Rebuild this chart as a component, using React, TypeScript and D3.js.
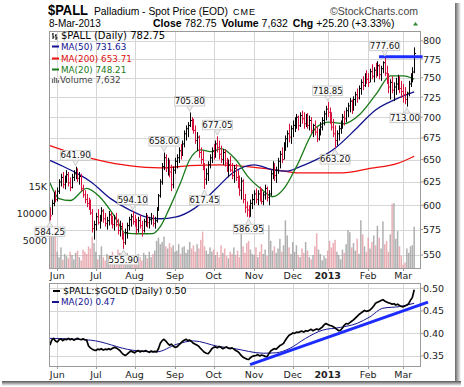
import React from "react";
import * as d3 from "d3";

// chart size / panel edges
const W = 464;
const H = 387;
const main = { left: 49, right: 420, top: 31, bottom: 268 };
const low = { top: 283, bottom: 366 };

const monthLabels = ["Jun", "Jul", "Aug", "Sep", "Oct", "Nov", "Dec", "2013", "Feb", "Mar"];
const monthIdx = [4, 25, 46, 68, 89, 111, 132, 151, 173, 192];

const priceTicks = [550, 575, 600, 625, 650, 675, 700, 725, 750, 775, 800];
const volTicks = [5000, 10000, 15000];
const volTickLabels = ["5000", "10000", "15K"];
const ratioTicks = [0.35, 0.4, 0.45, 0.5];

// daily bars, 24-May-2012 .. 8-Mar-2013
const highs = [
  598, 606, 614, 616, 619, 628, 634, 636, 632, 638,
  636, 630, 634, 638, 641.9, 640, 636, 634, 622, 616,
  612, 608, 606, 596, 584, 592, 596, 590, 598, 596,
  592, 588, 594, 593, 589, 590, 592, 586, 584, 582,
  572, 576, 582, 588, 591, 594.1, 590, 586, 588, 590,
  584, 586, 592, 590, 588, 592, 590, 588, 598, 612,
  628, 646, 658, 656, 652, 650, 644, 642, 652, 656,
  664, 668, 672, 684, 690, 694, 705.8, 700, 698, 690,
  682, 678, 664, 660, 646, 640, 648, 656, 664, 668,
  672, 677.05, 672, 666, 662, 662, 652, 650, 654, 646,
  644, 645, 638, 632, 630, 628, 612, 604, 600, 606,
  612, 616, 618, 616, 620, 618, 614, 622, 620, 616,
  638, 648, 646, 642, 652, 660, 664, 670, 678, 684,
  692, 690, 696, 700, 704, 702, 706, 708, 706, 704,
  705, 702, 700, 692, 696, 688, 686, 694, 700, 708,
  714, 718.85, 712, 706, 698, 690, 684, 690, 696, 704,
  708, 712, 718, 724, 722, 726, 732, 736, 740, 748,
  752, 756, 760, 756, 762, 768, 764, 770, 772, 768,
  766, 772, 777.6, 766, 756, 748, 752, 744, 750, 754,
  752, 746, 742, 738, 732, 746, 756, 764, 791,
];
const lows = [
  584.25, 590, 599, 603, 604, 612, 620, 618, 617, 624,
  620, 615, 618, 626, 628, 625, 622, 615, 608, 602,
  598, 595, 590, 572, 565, 574, 580, 576, 583, 582,
  578, 575, 579, 580, 576, 574, 578, 570, 568, 565,
  555.9, 560, 566, 574, 578, 580, 578, 570, 572, 576,
  568, 572, 578, 577, 576, 580, 578, 576, 582, 594,
  608, 622, 638, 636, 632, 630, 615, 618, 634, 640,
  646, 650, 654, 664, 672, 676, 688, 684, 680, 668,
  660, 652, 645, 638, 617.45, 622, 626, 640, 646, 650,
  652, 658, 650, 646, 644, 642, 636, 630, 636, 628,
  624, 626, 618, 610, 606, 602, 592, 588, 586.95, 588,
  596, 600, 602, 600, 604, 601, 600, 606, 604, 600,
  610, 628, 626, 624, 634, 640, 646, 650, 660, 664,
  670, 668, 676, 682, 686, 684, 688, 692, 686, 688,
  686, 684, 680, 676, 678, 670, 672, 678, 684, 690,
  696, 700, 692, 684, 676, 663.2, 666, 672, 680, 686,
  690, 694, 700, 706, 704, 708, 714, 718, 722, 728,
  734, 738, 742, 738, 744, 748, 744, 750, 752, 748,
  746, 756, 752, 742, 730, 722, 730, 720, 728, 734,
  730, 724, 718, 716, 713, 726, 738, 744, 756,
];
const closes = [
  589, 602, 610, 606, 615, 625, 630, 622, 628, 633,
  624, 619, 630, 634, 637, 629, 631, 618, 611, 606,
  602, 598, 592, 576, 580, 588, 582, 585, 594, 586,
  581, 584, 590, 583, 580, 586, 580, 574, 578, 568,
  562, 572, 579, 585, 588, 583, 581, 575, 584, 579,
  574, 583, 588, 582, 585, 586, 581, 584, 596, 610,
  625, 642, 652, 641, 648, 636, 622, 638, 648, 652,
  660, 656, 668, 680, 686, 690, 696, 688, 684, 672,
  676, 658, 650, 642, 628, 634, 644, 652, 660, 655,
  668, 664, 656, 650, 658, 646, 640, 644, 638, 632,
  640, 630, 622, 616, 626, 606, 598, 595, 590, 602,
  606, 612, 606, 612, 610, 604, 611, 618, 608, 612,
  634, 642, 632, 638, 648, 656, 650, 666, 674, 680,
  676, 686, 690, 694, 700, 690, 702, 698, 692, 700,
  690, 696, 684, 690, 682, 674, 684, 688, 696, 704,
  710, 706, 696, 688, 680, 672, 680, 686, 692, 700,
  698, 708, 714, 720, 712, 722, 728, 724, 736, 744,
  740, 752, 748, 744, 758, 752, 760, 756, 766, 754,
  762, 770, 756, 748, 738, 744, 734, 738, 742, 748,
  736, 732, 728, 722, 730, 742, 750, 757.55, 782.75,
];
// volume, thousands
const volumes = [
  6.0, 7.2, 5.8, 6.8, 3.0,
  2.0, 3.8, 1.5, 2.6, 2.2, 1.8, 3.0, 2.4, 1.6, 2.8, 3.2, 2.0, 1.4, 3.4, 3.0, 2.6, 4.0, 3.6, 5.8, 4.6,
  3.0, 1.6, 2.4, 4.0, 2.0, 1.4, 2.6, 1.8, 2.2, 3.0, 1.6, 2.0, 3.4, 2.8, 1.8, 3.2, 2.2, 2.8, 1.6, 2.0, 2.4,
  2.2, 1.8, 2.6, 2.0, 1.4, 2.8, 2.4, 1.8, 3.0, 2.0, 2.6, 3.2,
  5.0, 5.6, 4.4, 4.8, 5.8, 4.0, 3.6, 4.6, 3.8, 4.2, 3.0,
  3.2, 4.4, 2.6, 3.8, 4.0, 2.8, 3.4, 4.8, 3.6, 4.2, 3.0, 4.4, 3.6, 5.2, 6.7, 4.0, 3.2, 2.6, 3.8, 3.0,
  3.4, 2.4, 3.0, 2.0, 4.2, 2.8, 3.6, 2.2, 1.8, 3.0, 2.6, 3.8, 2.4, 3.2, 2.0, 7.0, 4.0, 2.8, 4.6, 5.0, 3.4, 2.6,
  2.4, 3.8, 2.0, 3.0, 4.4, 2.6, 3.4, 2.2, 7.9, 5.0, 3.2, 4.0, 2.8, 3.6, 5.4, 3.0, 4.2, 8.8, 6.0, 3.8, 2.6, 4.8,
  3.0, 4.2, 2.4, 2.0, 3.6, 2.8, 4.8, 3.2, 2.0, 1.6, 2.4, 4.0, 6.4, 3.4, 2.6, 1.4, 2.2, 1.8,
  3.2, 5.0, 3.8, 4.6, 5.2, 3.0, 2.4, 1.6, 3.4, 2.8, 4.4, 7.0, 6.6, 3.8, 4.6, 3.2, 5.4, 2.6, 8.8, 6.2, 4.0, 3.0, 5.6, 3.6, 4.8, 6.0,
  4.2, 7.8, 5.6, 3.6, 8.6, 4.4, 5.0, 3.0, 6.2, 11.8, 12.0, 5.4, 6.8, 4.0,
  2.2, 0.6, 1.0, 3.6, 2.8, 4.0, 4.2, 7.632,
];
// $PALL:$GOLD daily
const ratio = [
  0.374, 0.385, 0.389, 0.383, 0.381, 0.386, 0.388, 0.384, 0.387, 0.386,
  0.389, 0.386, 0.388, 0.385, 0.387, 0.389, 0.387, 0.386, 0.388, 0.386,
  0.385, 0.372, 0.368, 0.365, 0.363, 0.362, 0.365, 0.364, 0.366, 0.363,
  0.365, 0.364, 0.366, 0.364, 0.367, 0.369, 0.368, 0.365, 0.362, 0.357,
  0.353, 0.351, 0.354, 0.358, 0.361, 0.359, 0.357, 0.36, 0.362, 0.359,
  0.361, 0.36, 0.362, 0.36, 0.358, 0.361, 0.359, 0.36, 0.359, 0.366,
  0.378, 0.384, 0.387, 0.383, 0.378, 0.374, 0.376, 0.372, 0.369, 0.37,
  0.374, 0.378, 0.382, 0.385, 0.387, 0.384, 0.385, 0.382, 0.378, 0.376,
  0.374, 0.371, 0.366, 0.362, 0.358, 0.356, 0.355, 0.36, 0.366, 0.369,
  0.37, 0.368, 0.371, 0.369, 0.366, 0.368, 0.37, 0.367, 0.366, 0.368,
  0.365, 0.362, 0.36, 0.356, 0.351, 0.347, 0.345, 0.343, 0.342, 0.346,
  0.349, 0.35, 0.351, 0.353, 0.35, 0.352, 0.351, 0.349, 0.348, 0.355,
  0.361, 0.364, 0.366, 0.365, 0.369, 0.373, 0.375, 0.378, 0.385, 0.391,
  0.396, 0.398, 0.401, 0.4, 0.403, 0.402, 0.404, 0.405, 0.403, 0.406,
  0.405, 0.407, 0.409, 0.406, 0.408, 0.41, 0.408, 0.411, 0.414, 0.419,
  0.422, 0.42, 0.418, 0.417, 0.415, 0.412, 0.409, 0.406, 0.407, 0.412,
  0.418, 0.422, 0.421, 0.424, 0.427, 0.43, 0.434, 0.438, 0.442, 0.445,
  0.448, 0.451, 0.449, 0.45, 0.452, 0.456, 0.461, 0.467, 0.469, 0.471,
  0.473, 0.475, 0.472, 0.47, 0.468, 0.467, 0.465, 0.466, 0.463, 0.465,
  0.462, 0.46, 0.459, 0.461, 0.463, 0.466, 0.474, 0.48, 0.497,
];

// moving averages as [day index, value]
const ma200 = [[0, 666], [11, 658], [27, 649], [43, 643], [60, 640.5], [76, 643], [92, 644], [110, 641.5], [129, 636.5], [134, 635], [159, 635], [174, 640], [189, 645.6], [198, 653.71]];
const ma50 = [[0, 649], [9, 640.4], [16, 633], [22, 625.5], [33, 607], [43, 595.4], [52, 588], [60, 586], [68, 587.6], [79, 597.3], [90, 617], [100, 636], [111, 644], [122, 638], [129, 637], [136, 642], [144, 649], [155, 663], [166, 685], [177, 709], [188, 722.4], [198, 731.63]];
const ma20 = [[0, 624], [5, 607], [11, 605], [20, 618], [27, 609], [36, 586], [41, 571.5], [49, 570.8], [56, 571], [60, 578], [65, 597], [71, 624], [76, 650], [82, 661], [88, 659], [93, 662.6], [101, 650], [108, 630], [115, 617], [121, 609], [128, 620], [134, 642], [145, 688], [152, 694], [159.5, 692], [168.5, 703.7], [177.6, 729.8], [185, 752.6], [192, 752.6], [198, 748.21]];
const ratioMa20 = [[0, 0.389], [22, 0.385], [45, 0.3626], [58, 0.359], [69, 0.376], [78, 0.3834], [91, 0.3716], [100, 0.3664], [116, 0.356], [123, 0.357], [130, 0.366], [139, 0.389], [148, 0.407], [158, 0.4134], [167, 0.4224], [174, 0.437], [181, 0.456], [190, 0.4596], [198, 0.467]];

// drawn annotations
const highMarks = [14, 45, 62, 76, 91, 151, 182];
const lowMarks = [0, 40, 84, 108, 155, 194];
const resistance = [[178.9, 778], [202.6, 778]];
const ratioTrend = [[108.8, 0.3305], [205.5, 0.4695]];

const RED = "#d8103c";
const BLUE = "#1c2cff";
const GRID = "#d6d6d6";
const BORDER = "#9a9a9a";
const axisFont = "DejaVu Sans, Verdana, sans-serif";
const headFont = "Liberation Sans, Arial, sans-serif";

export default function App() {
  const x = d3.scaleLinear().domain([0, 198]).range([49.9, 414.2]);
  const y = d3.scaleLog().domain([537.6, 814]).range([main.bottom, main.top]);
  const yv = d3.scaleLinear().domain([0, 15000]).range([main.bottom, 186.7]);
  const yr = d3.scaleLinear().domain([0.3276, 0.512]).range([low.bottom, low.top]);

  const down = (i: number) => (i === 0 ? true : closes[i] < closes[i - 1]);

  const maLine = d3.line<number[]>().x((d) => x(d[0])).y((d) => y(d[1])).curve(d3.curveMonotoneX);
  const rMaLine = d3.line<number[]>().x((d) => x(d[0])).y((d) => yr(d[1])).curve(d3.curveMonotoneX);
  const rLine = d3.line<number>().x((_, i) => x(i)).y((d) => yr(d));

  const label = (i: number, isHigh: boolean) => {
    const v = isHigh ? highs[i] : lows[i];
    const px = x(i);
    const py = y(v);
    const bh = 9.5;
    const bw = 30;
    const cx = Math.min(px, main.right - bw / 2);
    const by = isHigh ? py - 6.5 - bh : py + 6.5;
    const tip = isHigh
      ? `M${px - 3},${by + bh} L${px},${py - 1} L${px + 3},${by + bh}`
      : `M${px - 3},${by} L${px},${py + 1} L${px + 3},${by}`;
    return (
      <g key={`${isHigh ? "h" : "l"}${i}`}>
        <path d={tip} fill="#eeeeee" stroke="#c4c4c4" strokeWidth={0.8} />
        <rect x={cx - bw / 2} y={by} width={bw} height={bh} fill="#fbfbfb" stroke="#c4c4c4" strokeWidth={0.8} />
        <text x={cx} y={by + bh - 1.7} textAnchor="middle" fontSize={8.6} fontFamily={axisFont} fill="#111">
          {v.toFixed(2)}
        </text>
      </g>
    );
  };

  return (
    <div>
      <style>{`body{margin:0}`}</style>
      <svg width={W} height={H} viewBox={`0 0 ${W} ${H}`} style={{ display: "block", background: "#fff" }}>
        <defs>
          <clipPath id="mainClip">
            <rect x={main.left} y={main.top} width={main.right - main.left} height={main.bottom - main.top} />
          </clipPath>
          <clipPath id="lowClip">
            <rect x={main.left} y={low.top} width={main.right - main.left} height={low.bottom - low.top} />
          </clipPath>
          <linearGradient id="shR" x1="0" x2="1" y1="0" y2="0">
            <stop offset="0" stopColor="#666" />
            <stop offset="1" stopColor="#fff" />
          </linearGradient>
          <linearGradient id="shB" x1="0" x2="0" y1="0" y2="1">
            <stop offset="0" stopColor="#555" />
            <stop offset="1" stopColor="#fff" />
          </linearGradient>
        </defs>

        {/* frame shadow */}
        <rect x={455} y={3} width={6} height={380} fill="url(#shR)" />
        <rect x={2} y={381} width={459} height={5} fill="url(#shB)" />

        {/* header */}
        <text x={48} y={14.5} fontFamily={headFont} fontWeight="bold" fontSize={14} textLength={40} lengthAdjust="spacingAndGlyphs">$PALL</text>
        <text x={94} y={14.5} fontFamily={headFont} fontSize={10.5} textLength={134} lengthAdjust="spacingAndGlyphs">Palladium - Spot Price (EOD)</text>
        <text x={233} y={14.5} fontFamily={headFont} fontSize={9} textLength={22}>CME</text>
        <text x={330} y={14.5} fontFamily={headFont} fontSize={10.5} fill="#444" textLength={88}>©StockCharts.com</text>
        <text x={49} y={26.5} fontFamily={headFont} fontSize={10}>8-Mar-2013</text>
        <text x={153} y={26.5} fontFamily={headFont} fontSize={10.5}>
          <tspan fontWeight="bold">Close</tspan> 782.75 <tspan fontWeight="bold" dx={2}>Volume</tspan> 7,632 <tspan fontWeight="bold" dx={2}>Chg</tspan> +25.20 (+3.33%)
        </text>
        <path d="M413,25.5 L415.5,22 L418,25.5 Z" fill="#2a8a2a" />

        {/* main panel grid */}
        <g clipPath="url(#mainClip)">
          {priceTicks.map((t) => (
            <line key={t} x1={main.left} x2={main.right} y1={Math.round(y(t)) + 0.5} y2={Math.round(y(t)) + 0.5} stroke={GRID} />
          ))}
          {monthIdx.map((m) => (
            <line key={m} x1={Math.round(x(m)) + 0.5} x2={Math.round(x(m)) + 0.5} y1={main.top} y2={main.bottom} stroke={GRID} />
          ))}
          {volumes.map((v, i) => (
            <rect key={i} x={x(i) - 0.75} y={yv(v * 1000)} width={1.5} height={main.bottom - yv(v * 1000)}
              fill={down(i) ? "#e59aa3" : "#9c9c9c"} fillOpacity={0.8} />
          ))}
          <path d={maLine(ma200) || ""} fill="none" stroke="#f01010" strokeWidth={1.3} />
          <path d={maLine(ma50) || ""} fill="none" stroke="#141490" strokeWidth={1.3} />
          <path d={maLine(ma20) || ""} fill="none" stroke="#1a7a1a" strokeWidth={1.3} />
          {closes.map((c, i) => {
            const xi = Math.round(x(i)) + 0.5;
            const col = down(i) ? RED : "#000";
            return (
              <g key={i} stroke={col} strokeWidth={1}>
                <line x1={xi} x2={xi} y1={y(highs[i])} y2={y(lows[i])} />
                <line x1={xi} x2={xi + 1.5} y1={y(c)} y2={y(c)} />
              </g>
            );
          })}
        </g>
        <rect x={main.left + 0.5} y={main.top + 0.5} width={main.right - main.left} height={main.bottom - main.top} fill="none" stroke={BORDER} />
        <path d={d3.line<number[]>().x((d) => x(d[0])).y((d) => y(d[1]))(resistance) || ""} stroke={BLUE} strokeWidth={3} />

        {highMarks.map((i) => label(i, true))}
        {lowMarks.map((i) => label(i, false))}

        {/* main axes */}
        {priceTicks.map((t) => (
          <g key={t}>
            <line x1={main.right} x2={main.right + 3} y1={y(t)} y2={y(t)} stroke={BORDER} />
            <text x={423} y={y(t) + 3.5} fontSize={9.5} fontFamily={axisFont} fill="#222">{t}</text>
          </g>
        ))}
        {volTicks.map((t, k) => (
          <text key={t} x={47} y={yv(t) + 3.5} textAnchor="end" fontSize={9.5} fontFamily={axisFont} fill="#222">{volTickLabels[k]}</text>
        ))}
        {monthIdx.map((m, k) => (
          <g key={m}>
            <line x1={Math.round(x(m)) + 0.5} x2={Math.round(x(m)) + 0.5} y1={main.bottom} y2={main.bottom + 3} stroke={BORDER} />
            <text x={x(m)} y={279} textAnchor="middle" fontSize={9.5} fontFamily={axisFont}
              fontWeight={monthLabels[k] === "2013" ? "bold" : "normal"} fill="#222">{monthLabels[k]}</text>
          </g>
        ))}

        {/* main legend */}
        <g fontFamily={axisFont}>
          <path d="M53,33 v6 M52,34 h1 M53,37 h1.5 M56,34 v6 M55,35.5 h1 M56,38 h1.5" stroke="#000" strokeWidth={1} />
          <text x={61} y={38.5} fontSize={10}>$PALL (Daily) 782.75</text>
          <line x1={52} x2={59} y1={46.5} y2={46.5} stroke="#141490" strokeWidth={2} />
          <text x={61} y={49.5} fontSize={8.8} fill="#141490">MA(50) 731.63</text>
          <line x1={52} x2={59} y1={58.5} y2={58.5} stroke="#f01010" strokeWidth={2} />
          <text x={61} y={61.5} fontSize={8.8} fill="#e01010">MA(200) 653.71</text>
          <line x1={52} x2={59} y1={69.5} y2={69.5} stroke="#1a7a1a" strokeWidth={2} />
          <text x={61} y={72.5} fontSize={8.8} fill="#1a7a1a">MA(20) 748.21</text>
          <path d="M52.5,83 v-4 M54.5,83 v-6 M56.5,83 v-5 M58.5,83 v-3" stroke="#777" strokeWidth={1.3} />
          <text x={60} y={83} fontSize={8.8} fill="#444">Volume 7,632</text>
        </g>

        {/* lower panel */}
        <g clipPath="url(#lowClip)">
          {ratioTicks.map((t) => (
            <line key={t} x1={main.left} x2={main.right} y1={Math.round(yr(t)) + 0.5} y2={Math.round(yr(t)) + 0.5} stroke={GRID} />
          ))}
          {monthIdx.map((m) => (
            <line key={m} x1={Math.round(x(m)) + 0.5} x2={Math.round(x(m)) + 0.5} y1={low.top} y2={low.bottom} stroke={GRID} />
          ))}
          <path d={rMaLine(ratioMa20) || ""} fill="none" stroke="#141490" strokeWidth={1} />
          <path d={rLine(ratio) || ""} fill="none" stroke="#000" strokeWidth={1.7} strokeLinejoin="round" />
        </g>
        <rect x={main.left + 0.5} y={low.top + 0.5} width={main.right - main.left} height={low.bottom - low.top} fill="none" stroke={BORDER} />
        <path d={d3.line<number[]>().x((d) => x(d[0])).y((d) => yr(d[1]))(ratioTrend) || ""} stroke={BLUE} strokeWidth={3} />

        {ratioTicks.map((t) => (
          <g key={t}>
            <line x1={main.right} x2={main.right + 3} y1={yr(t)} y2={yr(t)} stroke={BORDER} />
            <text x={423} y={yr(t) + 3.5} fontSize={9.5} fontFamily={axisFont} fill="#222">{t.toFixed(2)}</text>
          </g>
        ))}
        {monthIdx.map((m, k) => (
          <g key={m}>
            <line x1={Math.round(x(m)) + 0.5} x2={Math.round(x(m)) + 0.5} y1={low.bottom} y2={low.bottom + 3} stroke={BORDER} />
            <text x={x(m)} y={378} textAnchor="middle" fontSize={9.5} fontFamily={axisFont}
              fontWeight={monthLabels[k] === "2013" ? "bold" : "normal"} fill="#222">{monthLabels[k]}</text>
          </g>
        ))}
        <g fontFamily={axisFont}>
          <line x1={53} x2={60} y1={291} y2={291} stroke="#000" strokeWidth={2} />
          <text x={63} y={294} fontSize={9.5}>$PALL:$GOLD (Daily) 0.50</text>
          <line x1={52} x2={59} y1={302} y2={302} stroke="#141490" strokeWidth={2} />
          <text x={61} y={305} fontSize={8.8} fill="#141490">MA(20) 0.47</text>
        </g>
      </svg>
    </div>
  );
}
